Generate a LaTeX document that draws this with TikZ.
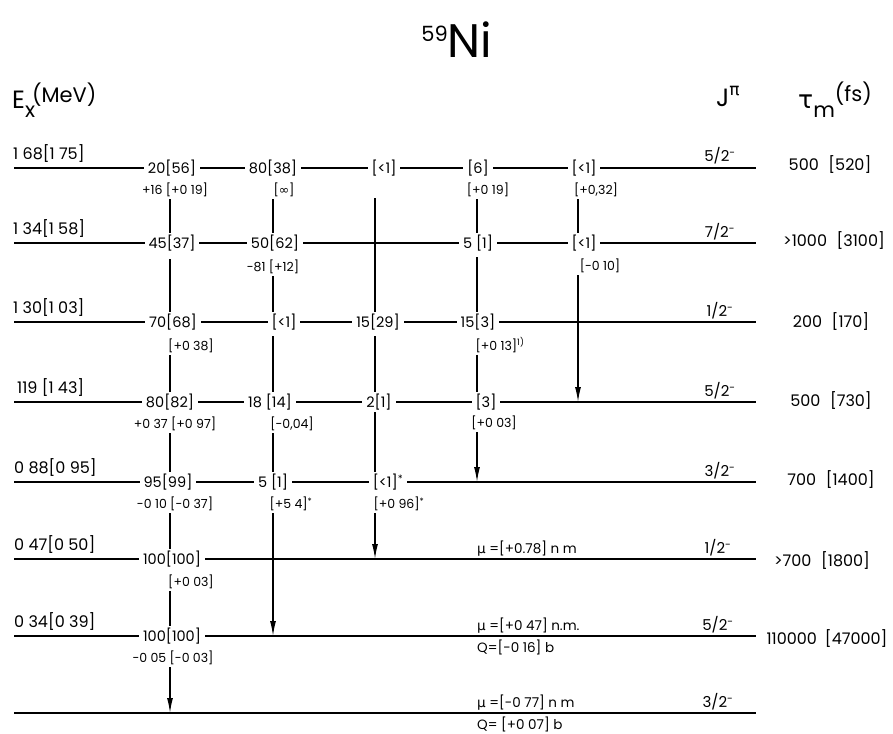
\documentclass[tikz,border=0pt]{standalone}
\usepackage{fontspec}
\setmainfont{Poppins}
\newfontfamily\grk{DejaVu Sans}
\usetikzlibrary{arrows.meta}

\tikzset{
  lvline/.style={line width=1.3pt},
  tline/.style={line width=1.3pt},
  decay/.style={tline, -{Latex[length=15pt,width=6pt]}},
  br/.style={fill=white, inner xsep=4pt, inner ysep=2pt, font=\fontsize{14.5}{14.5}\selectfont},
  mix/.style={inner sep=2pt, font=\fontsize{12.5}{12.5}\selectfont},
  elab/.style={anchor=south west, inner sep=1pt, font=\fontsize{16}{16}\selectfont},
  jpi/.style={inner sep=1pt, font=\fontsize{15}{15}\selectfont},
  life/.style={inner sep=1pt, font=\fontsize{16}{16}\selectfont},
  mom/.style={anchor=west, inner sep=1pt, font=\fontsize{13.5}{13.5}\selectfont},
}

\begin{document}
\begin{tikzpicture}[x=1pt, y=-1pt]
\useasboundingbox (0,0) rectangle (893,733);

% columns of the decay scheme
\coordinate (c1) at (170,0);
\coordinate (c2) at (273,0);
\coordinate (c3) at (375,0);
\coordinate (c4) at (477,0);
\coordinate (c5) at (578,0);

% level lines
\foreach \y in {168,243,322,402,482,559,636,713}
  \draw[lvline] (14,\y) -- (756,\y);

% title and headers
\node (title) at (457,40) {{\fontsize{21}{21}\selectfont\raisebox{16pt}{59}}{\fontsize{47}{47}\selectfont Ni}};
\node[anchor=west, inner sep=0pt] (ex) at (12,100) {{\fontsize{25}{25}\selectfont E}{\fontsize{21}{21}\selectfont\raisebox{-9pt}{x}\hspace{-3pt}\raisebox{6pt}{(MeV)}}};
\node[anchor=west, inner sep=0pt] (jp) at (716,96) {{\fontsize{25}{25}\selectfont J}{\fontsize{17}{17}\selectfont\raisebox{11pt}{\grk π}}};
\node[anchor=west, inner sep=0pt] (tm) at (798,100) {{\fontsize{25}{25}\selectfont\grk τ}{\fontsize{21}{21}\selectfont\raisebox{-9pt}{m}\raisebox{7pt}{(fs)}}};

% excitation energies
\node[elab] (e1) at (12,164) {1 68[1 75]};
\node[elab] (e2) at (12,239) {1 34[1 58]};
\node[elab] (e3) at (12,318) {1 30[1 03]};
\node[elab] (e4) at (16,398) {119 [1 43]};
\node[elab] (e5) at (13,478) {0 88[0 95]};
\node[elab] (e6) at (13,555) {0 47[0 50]};
\node[elab] (e7) at (13,632) {0 34[0 39]};

% spins and lifetimes
\node[jpi] (j1) at (720,156) {5/2\textsuperscript{-}};
\node[jpi] (j2) at (720,232) {7/2\textsuperscript{-}};
\node[jpi] (j3) at (720,311) {1/2\textsuperscript{-}};
\node[jpi] (j4) at (720,391) {5/2\textsuperscript{-}};
\node[jpi] (j5) at (720,471) {3/2\textsuperscript{-}};
\node[jpi] (j6) at (718,548) {1/2\textsuperscript{-}};
\node[jpi] (j7) at (718,625) {5/2\textsuperscript{-}};
\node[jpi] (j8) at (718,702) {3/2\textsuperscript{-}};
\node[life] (t1) at (830,165) {500\hspace{0.6em}[520]};
\node[life] (t2) at (834,241) {>1000\hspace{0.6em}[3100]};
\node[life] (t3) at (831,322) {200\hspace{0.6em}[170]};
\node[life] (t4) at (831,401) {500\hspace{0.6em}[730]};
\node[life] (t5) at (831,480) {700\hspace{0.6em}[1400]};
\node[life] (t6) at (822,561) {>700\hspace{0.6em}[1800]};
\node[life] (t7) at (827,639) {110000\hspace{0.5em}[47000]};

% moments
\node[mom] (mu6) at (476,549) {{\grk µ} =[+0.78] n m};
\node[mom] (mu7) at (476,626) {{\grk µ} =[+0 47] n.m.};
\node[mom] (q7) at (476,647) {Q=[-0 16] b};
\node[mom] (mu8) at (476,703) {{\grk µ} =[-0 77] n m};
\node[mom] (q8) at (476,724) {Q= [+0 07] b};

% branching ratios on the levels
\node[br] (b1a) at (172,168) {20[56]};
\node[br] (b2a) at (273,168) {80[38]};
\node[br] (b3a) at (384,168) {[<1]};
\node[br] (b4a) at (478,168) {[6]};
\node[br] (b5a) at (584,168) {[<1]};
\node[br] (b1b) at (172,243) {45[37]};
\node[br] (b2b) at (275,243) {50[62]};
\node[br] (b4b) at (478,243) {5 [1]};
\node[br] (b5b) at (584,243) {[<1]};
\node[br] (b1c) at (173,322) {70[68]};
\node[br] (b2c) at (284,322) {[<1]};
\node[br] (b3c) at (378,322) {15[29]};
\node[br] (b4c) at (478,322) {15[3]};
\node[br] (b1d) at (170,402) {80[82]};
\node[br] (b2d) at (270,402) {18 [14]};
\node[br] (b3d) at (379,402) {2[1]};
\node[br] (b4d) at (486,402) {[3]};
\node[br] (b1e) at (168,482) {95[99]};
\node[br] (b2e) at (273,482) {5 [1]};
\node[br] (b3e) at (388,482) {[<1]\textsuperscript{*}};
\node[br] (b1f) at (172,559) {100[100]};
\node[br] (b1g) at (172,636) {100[100]};

% mixing ratios
\node[mix] (m1a) at (175,190) {+16 [+0 19]};
\node[mix] (m2a) at (284,190) {[{\grk ∞}]};
\node[mix] (m4a) at (488,190) {[+0 19]};
\node[mix] (m5a) at (596,190) {[+0,32]};
\node[mix] (m2b) at (273,267) {-81 [+12]};
\node[mix] (m5b) at (600,266) {[-0 10]};
\node[mix] (m1c) at (191,346) {[+0 38]};
\node[mix] (m4c) at (500,345) {[+0 13]\textsuperscript{1)}};
\node[mix] (m1d) at (175,424) {+0 37 [+0 97]};
\node[mix] (m2d) at (292,424) {[-0,04]};
\node[mix] (m4d) at (494,423) {[+0 03]};
\node[mix] (m1e) at (175,504) {-0 10 [-0 37]};
\node[mix] (m2e) at (291,504) {[+5 4]\textsuperscript{*}};
\node[mix] (m3e) at (399,504) {[+0 96]\textsuperscript{*}};
\node[mix] (m1f) at (191,582) {[+0 03]};
\node[mix] (m1g) at (173,658) {-0 05 [-0 03]};

% ends of the last transitions
\coordinate (g5) at (578,402);
\coordinate (g4) at (477,482);
\coordinate (g3) at (375,559);
\coordinate (g2) at (273,636);
\coordinate (g1) at (170,713);

% transitions
\draw[tline] (m1a.south -| c1) -- (b1b.north -| c1);
\draw[tline, shorten <=6pt] (b1b.south -| c1) -- (b1c.north -| c1);
\draw[tline] (m1c.south -| c1) -- (b1d.north -| c1);
\draw[tline] (m1d.south -| c1) -- (b1e.north -| c1);
\draw[tline] (m1e.south -| c1) -- (b1f.north -| c1);
\draw[tline] (m1f.south -| c1) -- (b1g.north -| c1);
\draw[decay] (m1g.south -| c1) -- (g1);
\draw[tline] (m2a.south -| c2) -- (b2b.north -| c2);
\draw[tline] (m2b.south -| c2) -- (b2c.north -| c2);
\draw[tline, shorten <=4pt] (b2c.south -| c2) -- (b2d.north -| c2);
\draw[tline] (m2d.south -| c2) -- (b2e.north -| c2);
\draw[decay] (m2e.south -| c2) -- (g2);
\draw[tline, shorten <=20pt] (b3a.south -| c3) -- (b3c.north -| c3);
\draw[tline, shorten <=4pt] (b3c.south -| c3) -- (b3d.north -| c3);
\draw[tline] (b3d.south -| c3) -- (b3e.north -| c3);
\draw[decay] (m3e.south -| c3) -- (g3);
\draw[tline] (m4a.south -| c4) -- (b4b.north -| c4);
\draw[tline, shorten <=4pt] (b4b.south -| c4) -- (b4c.north -| c4);
\draw[tline] (m4c.south -| c4) -- (b4d.north -| c4);
\draw[decay] (m4d.south -| c4) -- (g4);
\draw[tline] (m5a.south -| c5) -- (b5b.north -| c5);
\draw[decay] (m5b.south -| c5) -- (g5);
\end{tikzpicture}
\end{document}
